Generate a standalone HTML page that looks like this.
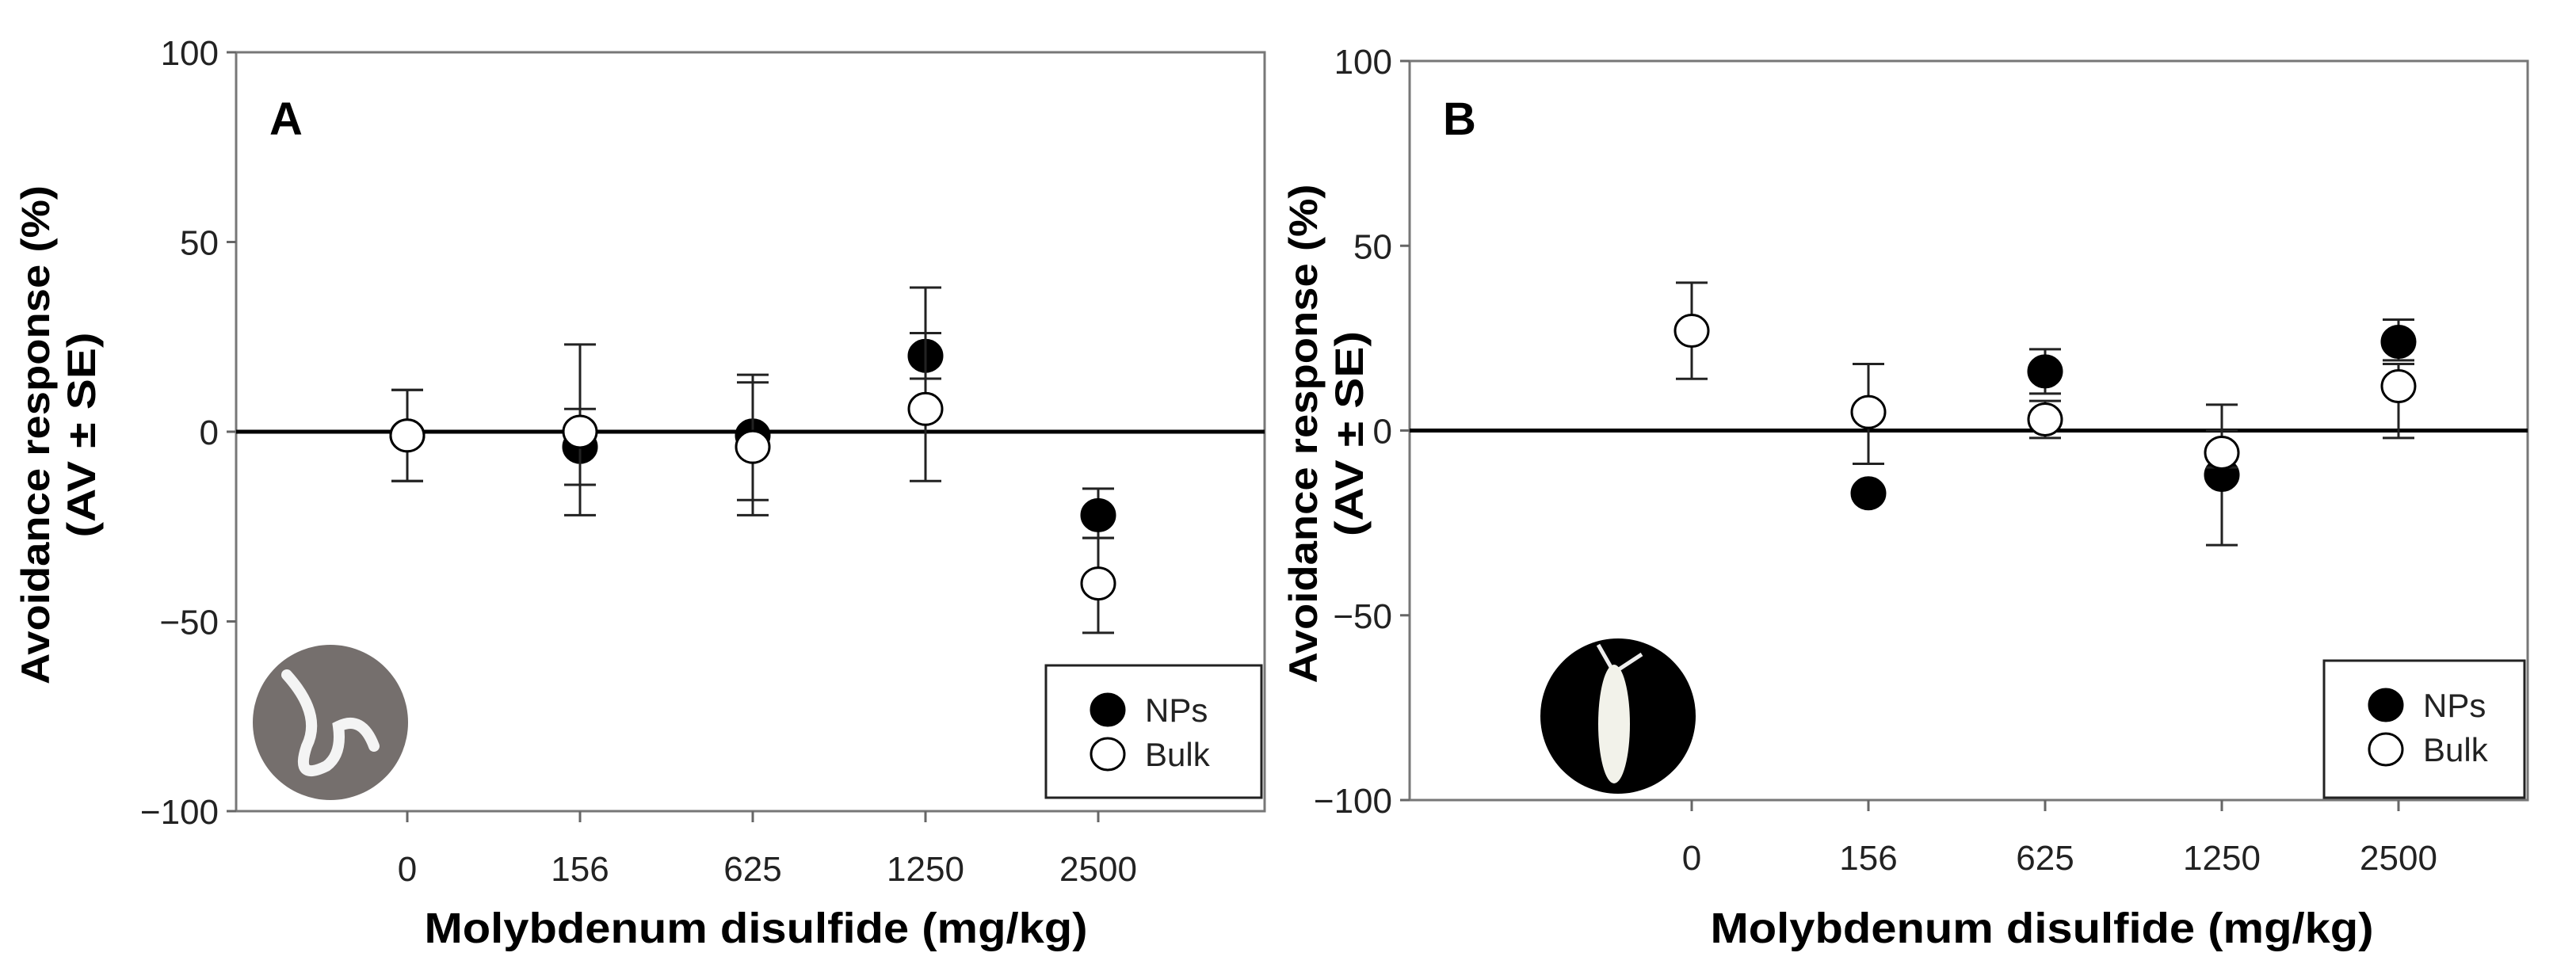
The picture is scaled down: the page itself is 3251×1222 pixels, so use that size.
<!DOCTYPE html>
<html><head><meta charset="utf-8"><style>
html,body{margin:0;padding:0;background:#fff;}
svg{display:block;font-family:"Liberation Sans",sans-serif;}
</style></head><body>
<svg id="chart" width="3251" height="1222" viewBox="0 0 3251 1222" xmlns="http://www.w3.org/2000/svg"></svg>
<script>
const categories = ["0","156","625","1250","2500"];
const yTicks = [100,50,0,-50,-100];
// Panel A (earthworm)
const aNPs = [-1,-4,-1,20,-22];
const aNPsHi = [11,6,15,26,-15];
const aNPsLo = [-13,-22,-22,14,-28];
const aBulk = [-1,0,-4,6,-40];
const aBulkHi = [11,23,13,38,-28];
const aBulkLo = [-13,-14,-18,-13,-53];
// Panel B (springtail)
const bNPs = [null,-17,16,-12,24];
const bNPsHi = [null,-17,22,0,30];
const bNPsLo = [null,-17,10,-31,19];
const bBulk = [27,5,3,-6,12];
const bBulkHi = [40,18,8,7,18];
const bBulkLo = [14,-9,-2,-10,-2];

const NS="http://www.w3.org/2000/svg";
const svg=document.getElementById('chart');
function mk(tag,attrs,parent){const e=document.createElementNS(NS,tag);for(const k in attrs)e.setAttribute(k,attrs[k]);(parent||svg).appendChild(e);return e;}

function panel(cfg){
  const g=mk('g',{});
  
  
  const yS=v=>cfg.y0+(cfg.yN-cfg.y0)*(100-v)/200;
  const xS=i=>cfg.x0+i*cfg.dx;
  const fr=mk('rect',{x:cfg.L,y:yS(100),width:cfg.R-cfg.L,height:yS(-100)-yS(100),fill:'none',stroke:'#777','stroke-width':3},g);
  
  
  yTicks.forEach(v=>{
    mk('line',{x1:cfg.L-12,x2:cfg.L,y1:yS(v),y2:yS(v),stroke:'#666','stroke-width':3},g);
    const t=mk('text',{x:cfg.L-22,y:yS(v)+16,'text-anchor':'end','font-size':44,fill:'#222'},g);
    t.textContent=(v<0?'\u2212'+(-v):v);
    
    
  });
  categories.forEach((c,i)=>{
    mk('line',{x1:xS(i),x2:xS(i),y1:yS(-100),y2:yS(-100)+14,stroke:'#666','stroke-width':3},g);
    const t=mk('text',{x:xS(i),y:yS(-100)+88,'text-anchor':'middle','font-size':44,fill:'#222'},g);
    t.textContent=c;
    
    
  });
  const zl=mk('line',{x1:cfg.L,x2:cfg.R,y1:yS(0),y2:yS(0),stroke:'#000','stroke-width':5},g);
  
  
  [[cfg.nps,cfg.npsHi,cfg.npsLo,'#000','nps'],[cfg.bulk,cfg.bulkHi,cfg.bulkLo,'#fff','bulk']].forEach(s=>{
    s[0].forEach((v,i)=>{
      if(v===null)return;
      const x=xS(i);
      const eb=mk('path',{d:`M${x},${yS(s[1][i])}V${yS(s[2][i])}M${x-20},${yS(s[1][i])}H${x+20}M${x-20},${yS(s[2][i])}H${x+20}`,stroke:'#222','stroke-width':3,fill:'none'},g);
      
      
      const p=mk('ellipse',{cx:x,cy:yS(v),rx:21,ry:20,fill:s[3],stroke:'#000','stroke-width':3},g);
      
      
    });
  });
  const lt=mk('text',{x:cfg.L+42,y:170,'font-size':58,'font-weight':'bold',fill:'#000'},g);
  lt.textContent=cfg.id;
  
  
  const cy=(yS(100)+yS(-100))/2+4;
  const yt1=mk('text',{x:cfg.yt1,y:cy,'text-anchor':'middle','font-size':50,'font-weight':'bold',transform:`rotate(-90 ${cfg.yt1} ${cy})`,textLength:630,lengthAdjust:'spacingAndGlyphs'},g);
  yt1.textContent='Avoidance response (%)';
  
  
  const yt2=mk('text',{x:cfg.yt2,y:cy,'text-anchor':'middle','font-size':50,'font-weight':'bold',transform:`rotate(-90 ${cfg.yt2} ${cy})`,textLength:259,lengthAdjust:'spacingAndGlyphs'},g);
  yt2.textContent='(AV \u00b1 SE)';
  
  
  const xt=mk('text',{x:cfg.xtc,y:1190,'text-anchor':'middle','font-size':54,'font-weight':'bold',textLength:837,lengthAdjust:'spacingAndGlyphs'},g);
  xt.textContent='Molybdenum disulfide (mg/kg)';
  
  
  const lg=mk('g',{},g);
  
  
  mk('rect',{x:cfg.lx,y:cfg.ly,width:cfg.lw,height:cfg.lh,fill:'#fff',stroke:'#222','stroke-width':3},lg);
  [['NPs','#000',56],['Bulk','#fff',112]].forEach(e=>{
    const le=mk('g',{},lg);
    
    
    mk('ellipse',{cx:cfg.lx+78,cy:cfg.ly+e[2],rx:21,ry:20,fill:e[1],stroke:'#000','stroke-width':3},le);
    const t=mk('text',{x:cfg.lx+125,y:cfg.ly+e[2]+15,'font-size':42,fill:'#222'},le);
    t.textContent=e[0];
  });
  const ic=mk('g',{},g);
  
  
  mk('ellipse',{cx:cfg.icx,cy:cfg.icy,rx:98,ry:98,fill:cfg.iconFill},ic);
  if(cfg.id==='A'){
    mk('path',{d:`M${cfg.icx-55},${cfg.icy-60} Q${cfg.icx-10},${cfg.icy-10} ${cfg.icx-30},${cfg.icy+30} Q${cfg.icx-45},${cfg.icy+75} ${cfg.icx-5},${cfg.icy+55} Q${cfg.icx+15},${cfg.icy+40} ${cfg.icx+10},${cfg.icy+5} Q${cfg.icx+40},${cfg.icy-10} ${cfg.icx+55},${cfg.icy+30}`,fill:'none',stroke:'#f4f4f4','stroke-width':14,'stroke-linecap':'round'},ic);
  } else {
    mk('path',{d:`M${cfg.icx-25},${cfg.icy-90} L${cfg.icx-5},${cfg.icy-55} L${cfg.icx+30},${cfg.icy-78}`,fill:'none',stroke:'#eee','stroke-width':5},ic);
    mk('ellipse',{cx:cfg.icx-5,cy:cfg.icy+10,rx:20,ry:75,fill:'#f2f2ea'},ic);
  }
}

panel({id:'A',L:298,R:1596,y0:66,yN:1024,x0:514,dx:218,
  nps:aNPs,npsHi:aNPsHi,npsLo:aNPsLo,bulk:aBulk,bulkHi:aBulkHi,bulkLo:aBulkLo,
  yt1:62,yt2:120,xtc:954,lx:1320,ly:840,lw:272,lh:167,icx:417,icy:912,iconFill:'#756f6d'});
panel({id:'B',L:1779,R:3190,y0:77,yN:1010,x0:2135,dx:223,
  nps:bNPs,npsHi:bNPsHi,npsLo:bNPsLo,bulk:bBulk,bulkHi:bBulkHi,bulkLo:bBulkLo,
  yt1:1662,yt2:1720,xtc:2577,lx:2933,ly:834,lw:253,lh:173,icx:2042,icy:904,iconFill:'#000'});
</script>
</body></html>
